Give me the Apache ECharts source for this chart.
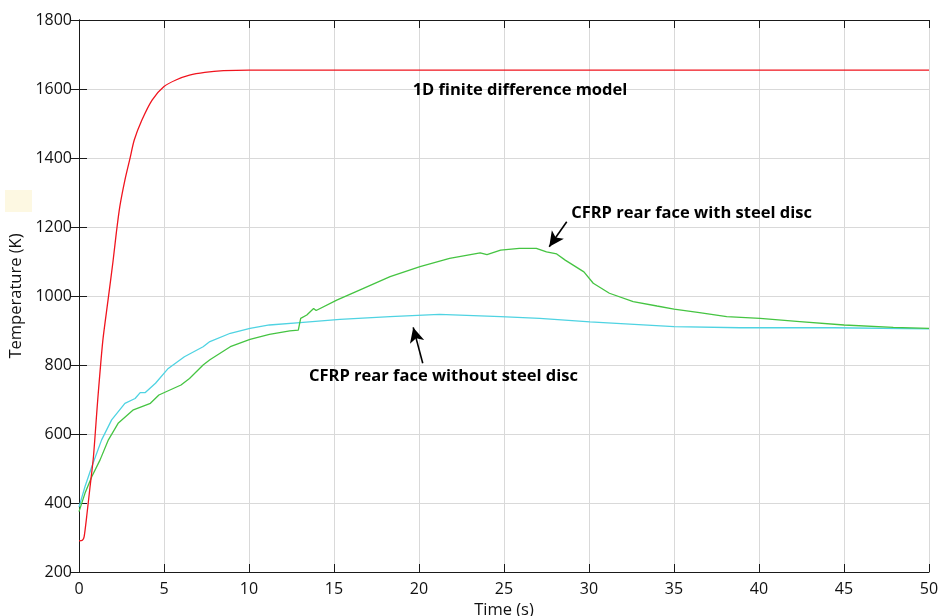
<!DOCTYPE html>
<html>
<head>
<meta charset="utf-8">
<script src="https://cdn.jsdelivr.net/npm/echarts@6/dist/echarts.min.js"></script>
<style>html,body{margin:0;padding:0;background:#fff;}#c{width:940px;height:616px;}</style>
</head>
<body>
<div id="c"></div>
<script>
// ---- data ----
const redT = [0, 0.2, 0.3, 0.45, 0.65, 0.85, 1.1, 1.4, 1.7, 2.0, 2.2, 2.4, 2.7, 3.0, 3.25, 3.7, 4.3, 5.0, 5.7, 6.5, 7.4, 8.5, 10, 15, 20, 30, 40, 50];
const redV = [290, 292, 302, 360, 447, 534, 698, 870, 985, 1100, 1185, 1259, 1336, 1399, 1452, 1510, 1568, 1607, 1626, 1640, 1648, 1653, 1655, 1655, 1655, 1655, 1655, 1655];

const cyanT = [0, 0.35, 0.75, 1.33, 1.92, 2.7, 3.3, 3.6, 3.9, 4.5, 5.25, 6.2, 7.3, 7.7, 8.9, 10.06, 11.2, 13, 15.35, 18.3, 21.2, 24.8, 27.1, 30.06, 35, 38.9, 44.4, 50];
const cyanV = [388, 447, 505, 583, 641, 689, 703, 720, 720, 747, 790, 824, 853, 868, 892, 906, 916, 923, 932, 940, 947, 940, 935, 925, 911, 908, 908, 905];

const greenT = [0, 0.35, 0.75, 1.24, 1.73, 2.3, 3.2, 4.2, 4.7, 6.0, 6.5, 7.3, 7.7, 8.9, 10.06, 11.2, 12.4, 12.9, 13.04, 13.4, 13.8, 13.95, 15.16, 16.5, 18.3, 20.06, 21.8, 23.6, 24.0, 24.8, 25.9, 26.9, 27.5, 28.1, 28.6, 29.7, 30.25, 31.2, 32.6, 34.0, 35.0, 36.5, 38.1, 40.06, 42.4, 45, 47.9, 50];
const greenV = [375, 428, 476, 525, 583, 631, 670, 689, 713, 742, 761, 800, 815, 853, 874, 889, 899, 901, 935, 945, 964, 958, 988, 1017, 1056, 1085, 1109, 1125, 1120, 1133, 1138, 1138, 1128, 1122, 1104, 1070, 1037, 1008, 984, 971, 962, 952, 940, 935, 926, 916, 909, 906];

const xTicks = {min: 0, max: 50, step: 5};
const yTicks = {min: 200, max: 1800, step: 200};

const notes = [
  {text: '1D finite difference model', at: [25.94, 1597]},
  {text: 'CFRP rear face with steel disc', at: [36.03, 1241]},
  {text: 'CFRP rear face without steel disc', at: [21.44, 768]}
];
const arrows = [
  {from: [28.69, 1215], to: [27.66, 1143]},
  {from: [20.22, 805], to: [19.66, 909]}
];
// ---- end data ----

const zip = (a, b) => a.map((t, i) => [t, b[i]]);
const FONT = '"Open Sans", "Liberation Sans", sans-serif';
const gridColor = '#d9d9d9';
const axisColor = '#1a1a1a';

const chart = echarts.init(document.getElementById('c'), null, {renderer: 'canvas'});

const baseAxis = {
  type: 'value',
  axisLine: {show: true, lineStyle: {color: axisColor, width: 1}},
  axisTick: {show: true, inside: true, length: 8, lineStyle: {color: axisColor}},
  splitLine: {show: false}
};

chart.setOption({
  animation: false,
  backgroundColor: '#ffffff',
  grid: {left: 79, right: 11, top: 20, bottom: 44, containLabel: false, outerBoundsMode: 'none'},
  graphic: [{
    type: 'rect', left: 5, top: 190, shape: {width: 27, height: 22},
    style: {fill: '#fdf8e2'}, z: -1
  }],
  xAxis: [
    Object.assign({}, baseAxis, {
      min: xTicks.min, max: xTicks.max, interval: xTicks.step,
      name: 'Time (s)', nameLocation: 'middle', nameGap: 26,
      nameTextStyle: {fontFamily: FONT, fontSize: 16.5, color: '#111'},
      axisLabel: {fontFamily: FONT, fontSize: 16, color: '#111', margin: 9},
      splitLine: {show: true, lineStyle: {color: gridColor, width: 1}}
    }),
    Object.assign({}, baseAxis, {
      position: 'top', min: xTicks.min, max: xTicks.max, interval: xTicks.step,
      axisLabel: {show: false}
    })
  ],
  yAxis: [
    Object.assign({}, baseAxis, {
      min: yTicks.min, max: yTicks.max, interval: yTicks.step,
      name: 'Temperature (K)', nameLocation: 'middle', nameGap: 53, nameRotate: 90,
      nameTextStyle: {fontFamily: FONT, fontSize: 16.5, color: '#111'},
      axisLabel: {fontFamily: FONT, fontSize: 16, color: '#111', margin: 7, formatter: v => String(v)},
      splitLine: {show: true, lineStyle: {color: gridColor, width: 1}}
    }),
    Object.assign({}, baseAxis, {
      position: 'right', min: yTicks.min, max: yTicks.max, interval: yTicks.step,
      axisLabel: {show: false}
    })
  ],
  series: [
    {
      type: 'line', name: 'cyan', data: zip(cyanT, cyanV), showSymbol: false, symbol: 'none',
      lineStyle: {color: '#4fd3e2', width: 1.3}, z: 3
    },
    {
      type: 'line', name: 'green', data: zip(greenT, greenV), showSymbol: false, symbol: 'none',
      lineStyle: {color: '#45c442', width: 1.3}, z: 4
    },
    {
      type: 'line', name: 'red', data: zip(redT, redV), showSymbol: false, symbol: 'none',
      smooth: 0.25,
      lineStyle: {color: '#f0141e', width: 1.3}, z: 5,
      markPoint: {
        silent: true,
        symbol: 'circle', symbolSize: 1,
        itemStyle: {color: 'rgba(0,0,0,0)'},
        label: {show: true, position: 'inside', color: '#000', fontFamily: FONT, fontWeight: 'bold', fontSize: 16.5},
        data: notes.map(n => ({coord: n.at, label: {formatter: n.text}}))
      },
      markLine: {
        silent: true,
        symbol: ['none', 'arrow'], symbolSize: [11, 15],
        itemStyle: {color: '#000'},
        lineStyle: {color: '#000', width: 1.6, type: 'solid'},
        label: {show: false},
        data: arrows.map(a => [{coord: a.from}, {coord: a.to}])
      }
    }
  ]
});
</script>
</body>
</html>
